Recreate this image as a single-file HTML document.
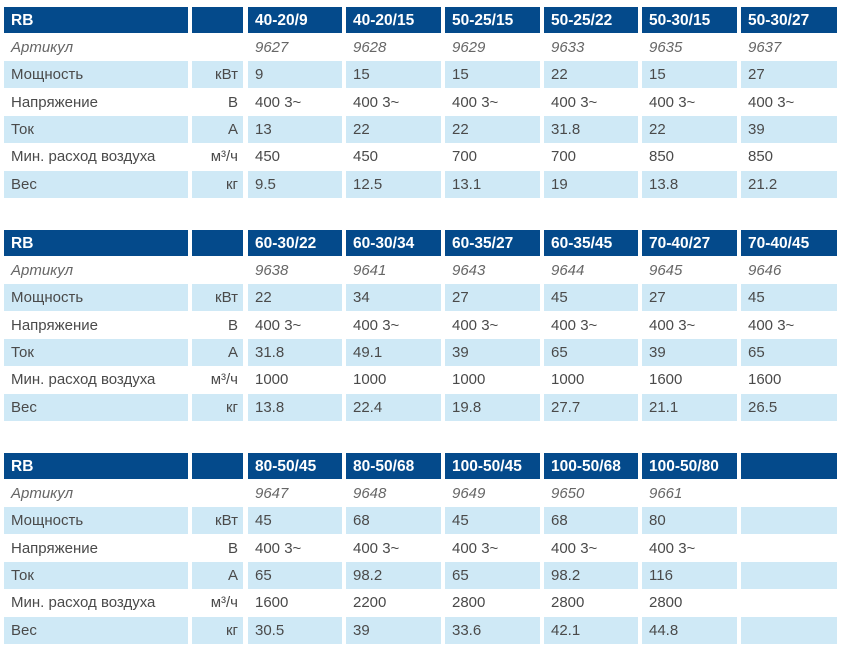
<!DOCTYPE html>
<html><head><meta charset="utf-8"><style>
body{margin:0;width:841px;height:652px;background:#fff;position:relative;overflow:hidden;font-family:"Liberation Sans",sans-serif;}
.c{position:absolute;box-sizing:border-box;font-size:15px;color:#4a4a4a;line-height:27px;white-space:nowrap;padding-left:7px;}
.h{background:#044a8b;color:#fff;font-weight:bold;font-size:15.5px;}
.l{background:#cfe9f6;}
.u{text-align:right;padding-left:0;padding-right:5px;}
.i{font-style:italic;color:#666;}
</style></head><body>
<script>
const colX=[4,192,248,346,445,544,642,741];
const colW=[184,51,94,95,95,94,95,96];
const labels=["Артикул","Мощность","Напряжение","Ток","Мин. расход воздуха","Вес"];
const units=["","кВт","В","А","м³/ч","кг"];
const models1=["40-20/9","40-20/15","50-25/15","50-25/22","50-30/15","50-30/27"];
const art1=["9627","9628","9629","9633","9635","9637"];
const pow1=["9","15","15","22","15","27"];
const cur1=["13","22","22","31.8","22","39"];
const air1=["450","450","700","700","850","850"];
const wt1=["9.5","12.5","13.1","19","13.8","21.2"];
const models2=["60-30/22","60-30/34","60-35/27","60-35/45","70-40/27","70-40/45"];
const art2=["9638","9641","9643","9644","9645","9646"];
const pow2=["22","34","27","45","27","45"];
const cur2=["31.8","49.1","39","65","39","65"];
const air2=["1000","1000","1000","1000","1600","1600"];
const wt2=["13.8","22.4","19.8","27.7","21.1","26.5"];
const models3=["80-50/45","80-50/68","100-50/45","100-50/68","100-50/80",""];
const art3=["9647","9648","9649","9650","9661",""];
const pow3=["45","68","45","68","80",""];
const cur3=["65","98.2","65","98.2","116",""];
const air3=["1600","2200","2800","2800","2800",""];
const wt3=["30.5","39","33.6","42.1","44.8",""];
const tables=[
 {top:7,models:models1,rows:[art1,pow1,null,cur1,air1,wt1]},
 {top:230,models:models2,rows:[art2,pow2,null,cur2,air2,wt2]},
 {top:453,models:models3,rows:[art3,pow3,null,cur3,air3,wt3]}];
const RH=27.3;
function cell(x,y,w,h,cls,txt){
 const d=document.createElement('div');
 d.className='c '+cls;
 d.style.left=x+'px';d.style.top=y+'px';d.style.width=w+'px';d.style.height=h+'px';
 d.textContent=txt;
 document.body.appendChild(d);
 return d;
}
tables.forEach((t,ti)=>{
 let d=cell(colX[0],t.top,colW[0],26,'h','RB');
 
 
 d=cell(colX[1],t.top,colW[1],26,'h','');
 
 
 t.models.forEach((m,k)=>{
  const e=cell(colX[k+2],t.top,colW[k+2],26,'h',m);
  
  
 });
 labels.forEach((lab,r)=>{
  const y=Math.round(t.top+26+r*RH+1);
  const h=Math.round(RH);
  const bg=(r%2===1)?'l':'';
  const it=r===0?' i':'';
  let a=cell(colX[0],y,colW[0],h,bg+it,lab);
  
  
  a=cell(colX[1],y,colW[1],h,bg+' u',units[r]);
  
  
  for(let k=0;k<6;k++){
   const v=t.rows[r]?t.rows[r][k]:(t.models[k]?'400 3~':'');
   a=cell(colX[k+2],y,colW[k+2],h,bg+it,v);
   
   
  }
 });
});
</script>
</body></html>
